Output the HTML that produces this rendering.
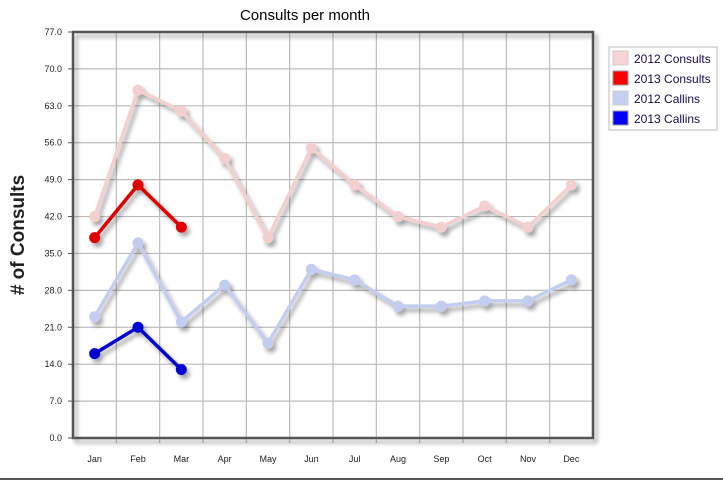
<!DOCTYPE html>
<html><head><meta charset="utf-8"><style>
body{margin:0;background:#fff;width:723px;height:481px;overflow:hidden;font-family:"Liberation Sans",sans-serif}
svg text{font-family:"Liberation Sans",sans-serif}
</style></head><body>
<svg id="chart" width="723" height="481" viewBox="0 0 723 481" xmlns="http://www.w3.org/2000/svg">
<defs><filter id="sh" x="-10%" y="-10%" width="130%" height="130%"><feDropShadow dx="3" dy="4" stdDeviation="2" flood-color="#000" flood-opacity="0.35"/></filter></defs>
<text x="305" y="20" font-size="15" text-anchor="middle" fill="#000">Consults per month</text>
<text transform="translate(24,235) rotate(-90)" font-size="19" font-weight="bold" text-anchor="middle" fill="#222">&#35; of Consults</text>
<g id="grid"></g><g id="series"></g>
<line x1="0" y1="479" x2="723" y2="479" stroke="#555" stroke-width="2"/>
<g>
<rect x="609" y="47" width="108" height="83" fill="#fff" stroke="#bbb"/>
<rect x="613" y="51" width="15" height="14" fill="#f6d4d4" stroke="#ccc"/>
<text x="634" y="63" font-size="12" fill="#1a0a4a">2012 Consults</text>
<rect x="613" y="71" width="15" height="14" fill="#f00" stroke="#999"/>
<text x="634" y="83" font-size="12" fill="#1a0a4a">2013 Consults</text>
<rect x="613" y="91" width="15" height="14" fill="#c4cff2" stroke="#ccc"/>
<text x="634" y="103" font-size="12" fill="#1a0a4a">2012 Callins</text>
<rect x="613" y="111" width="15" height="14" fill="#00f" stroke="#999"/>
<text x="634" y="123" font-size="12" fill="#1a0a4a">2013 Callins</text>
</g>
</svg>
<script>
const months=["Jan","Feb","Mar","Apr","May","Jun","Jul","Aug","Sep","Oct","Nov","Dec"];
const yTicks=["0.0","7.0","14.0","21.0","28.0","35.0","42.0","49.0","56.0","63.0","70.0","77.0"];
const consults2012=[42,66,62,53,38,55,48,42,40,44,40,48];
const consults2013=[38,48,40];
const callins2012=[23,37,22,29,18,32,30,25,25,26,26,30];
const callins2013=[16,21,13];
const NS="http://www.w3.org/2000/svg";
const L=73,R=593,T=32,B=438,YMAX=77;
const bw=(R-L)/months.length;
const x=i=>L+bw*(i+0.5);
const y=v=>B-(v/YMAX)*(B-T);
function mk(tag,attrs,parent){const e=document.createElementNS(NS,tag);for(const k in attrs)e.setAttribute(k,attrs[k]);parent.appendChild(e);return e;}
const g=document.getElementById('grid');
yTicks.forEach((t,i)=>{const v=parseFloat(t),yy=y(v);
 if(i>0&&i<yTicks.length-1){const ln=mk('line',{x1:L,x2:R,y1:yy,y2:yy,stroke:'#bbb','stroke-width':1.2},g);
 
 }
 mk('line',{x1:L-5,x2:L,y1:yy,y2:yy,stroke:'#555'},g);
 const tx=mk('text',{x:L-11,y:yy+3,'font-size':9,'text-anchor':'end',fill:'#222'},g);tx.textContent=t;
 
 
});
for(let i=1;i<months.length;i++){const xx=L+bw*i;const ln=mk('line',{x1:xx,x2:xx,y1:T,y2:B+5,stroke:'#bbb','stroke-width':1.2},g);
 
 }
months.forEach((m,i)=>{const tx=mk('text',{x:x(i),y:B+24,'font-size':9,'text-anchor':'middle',fill:'#222'},g);tx.textContent=m;
 
 });
const frame=mk('rect',{x:L,y:T,width:R-L,height:B-T,fill:'none',stroke:'#555','stroke-width':2.5,filter:'url(#sh)'},g);


const s=document.getElementById('series');
function draw(vals,color,name){
 const grp=mk('g',{filter:'url(#sh)'},s);
 
 
 const pl=mk('polyline',{points:vals.map((v,i)=>x(i)+','+y(v)).join(' '),fill:'none',stroke:color,'stroke-width':3.5,'stroke-linejoin':'round'},grp);
 
 
 vals.forEach((v,i)=>{const c=mk('circle',{cx:x(i),cy:y(v),r:5.5,fill:color},grp);
  
  });
}
draw(consults2012,'#f3cfcf','consults-2012');
draw(callins2012,'#c3cdf0','callins-2012');
draw(consults2013,'#e00000','consults-2013');
draw(callins2013,'#0000d0','callins-2013');
</script>
</body></html>
